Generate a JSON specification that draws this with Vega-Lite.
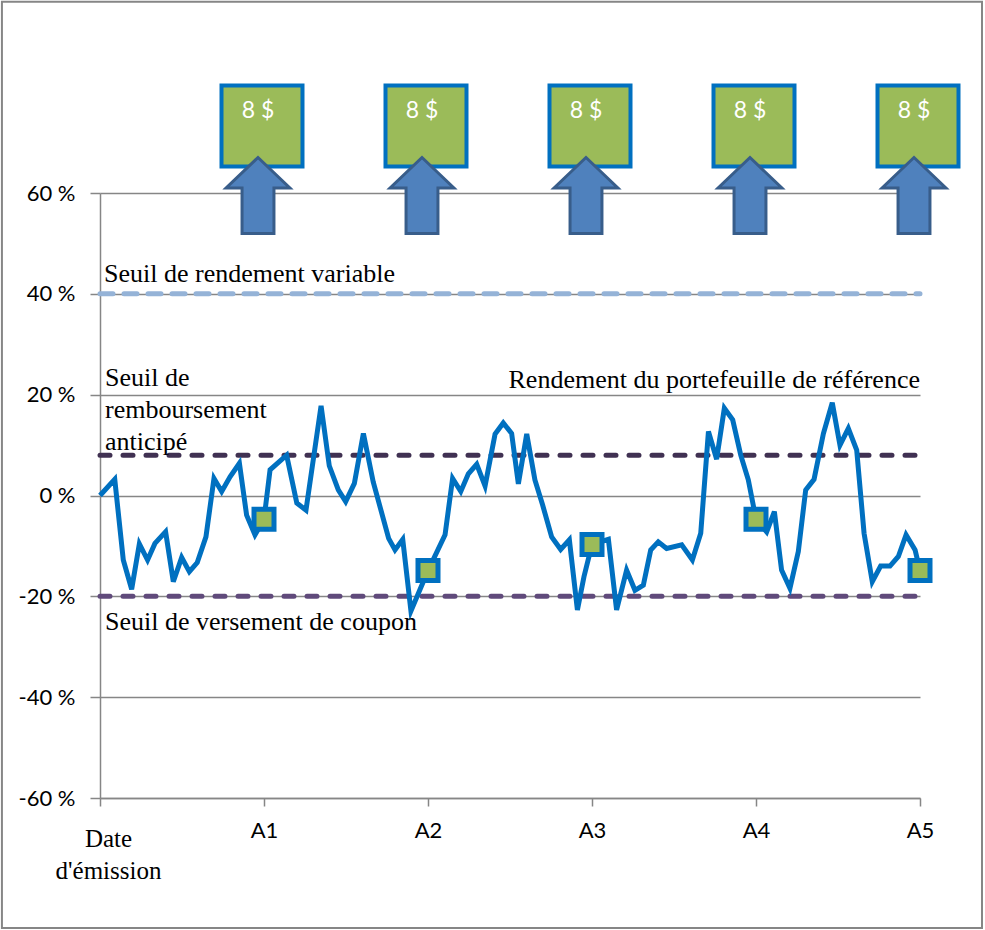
{
  "$schema": "https://vega.github.io/schema/vega-lite/v6.json",
  "width": 820,
  "height": 605,
  "autosize": {"type": "none"},
  "padding": {"left": 100, "top": 193, "right": 65, "bottom": 132},
  "background": "white",
  "config": {"view": {"stroke": null}},
  "datasets": {
    "rendement": [
      {"t": 0, "v": 0}, {"t": 0.09, "v": 3.2}, {"t": 0.142, "v": -12.8}, {"t": 0.193, "v": -18.6},
      {"t": 0.24, "v": -9.6}, {"t": 0.29, "v": -12.8}, {"t": 0.335, "v": -9.5}, {"t": 0.4, "v": -7.2},
      {"t": 0.447, "v": -17.1}, {"t": 0.498, "v": -12.3}, {"t": 0.545, "v": -15.1}, {"t": 0.593, "v": -13.3},
      {"t": 0.646, "v": -8.2}, {"t": 0.695, "v": 3.4}, {"t": 0.742, "v": 0.8}, {"t": 0.793, "v": 3.7},
      {"t": 0.85, "v": 6.4}, {"t": 0.894, "v": -3.9}, {"t": 0.945, "v": -7.8}, {"t": 1.0, "v": -4.7},
      {"t": 1.037, "v": 5.1}, {"t": 1.138, "v": 8.0}, {"t": 1.2, "v": -1.5}, {"t": 1.256, "v": -2.9},
      {"t": 1.348, "v": 17.8}, {"t": 1.398, "v": 5.9}, {"t": 1.453, "v": 1.1}, {"t": 1.498, "v": -1.2},
      {"t": 1.551, "v": 2.4}, {"t": 1.606, "v": 12.3}, {"t": 1.666, "v": 2.7}, {"t": 1.76, "v": -8.5},
      {"t": 1.799, "v": -10.8}, {"t": 1.846, "v": -8.7}, {"t": 1.896, "v": -22.9}, {"t": 2.0, "v": -14.9},
      {"t": 2.104, "v": -7.8}, {"t": 2.15, "v": 3.4}, {"t": 2.2, "v": 0.8}, {"t": 2.246, "v": 4.3},
      {"t": 2.297, "v": 6.2}, {"t": 2.348, "v": 1.9}, {"t": 2.409, "v": 12.2}, {"t": 2.459, "v": 14.4},
      {"t": 2.51, "v": 12.3}, {"t": 2.551, "v": 2.3}, {"t": 2.602, "v": 12.2}, {"t": 2.652, "v": 3.1},
      {"t": 2.699, "v": -1.9}, {"t": 2.754, "v": -8.2}, {"t": 2.809, "v": -10.7}, {"t": 2.862, "v": -8.8},
      {"t": 2.911, "v": -22.7}, {"t": 2.951, "v": -16.1}, {"t": 3.0, "v": -9.7}, {"t": 3.1, "v": -8.7},
      {"t": 3.15, "v": -22.7}, {"t": 3.211, "v": -14.8}, {"t": 3.262, "v": -18.8}, {"t": 3.313, "v": -17.8},
      {"t": 3.358, "v": -10.8}, {"t": 3.404, "v": -9.2}, {"t": 3.455, "v": -10.5}, {"t": 3.547, "v": -9.8},
      {"t": 3.612, "v": -12.8}, {"t": 3.663, "v": -7.5}, {"t": 3.71, "v": 12.7}, {"t": 3.76, "v": 7.2},
      {"t": 3.807, "v": 17.3}, {"t": 3.858, "v": 15.0}, {"t": 3.907, "v": 8.0}, {"t": 3.953, "v": 3.1},
      {"t": 4.0, "v": -4.7}, {"t": 4.065, "v": -7.2}, {"t": 4.112, "v": -3.2}, {"t": 4.156, "v": -14.8},
      {"t": 4.207, "v": -18.4}, {"t": 4.258, "v": -11.1}, {"t": 4.303, "v": 1.1}, {"t": 4.354, "v": 3.2},
      {"t": 4.411, "v": 12.3}, {"t": 4.465, "v": 18.4}, {"t": 4.512, "v": 10.0}, {"t": 4.563, "v": 13.3},
      {"t": 4.614, "v": 9.0}, {"t": 4.659, "v": -7.5}, {"t": 4.709, "v": -17.1}, {"t": 4.76, "v": -14.0},
      {"t": 4.817, "v": -14.0}, {"t": 4.868, "v": -12.1}, {"t": 4.915, "v": -7.8}, {"t": 4.97, "v": -10.8},
      {"t": 5.0, "v": -14.9}
    ],
    "observations": [
      {"t": 1, "v": -4.7}, {"t": 2, "v": -14.9}, {"t": 3, "v": -9.7}, {"t": 4, "v": -4.7}, {"t": 5, "v": -14.9}
    ],
    "seuils": [
      {"seuil": "Seuil de rendement variable", "niveau": 40},
      {"seuil": "Seuil de remboursement anticipé", "niveau": 8},
      {"seuil": "Seuil de versement de coupon", "niveau": -20}
    ],
    "coupons": [
      {"t": 1, "coupon": "8 $"}, {"t": 2, "coupon": "8 $"}, {"t": 3, "coupon": "8 $"},
      {"t": 4, "coupon": "8 $"}, {"t": 5, "coupon": "8 $"}
    ]
  },
  "layer": [
    {
      "data": {"name": "seuils"},
      "mark": {"type": "rule", "strokeWidth": 5, "strokeCap": "round"},
      "encoding": {
        "x": {"datum": 0, "type": "quantitative", "scale": {"domain": [0, 5]},
          "axis": {
            "values": [0, 1, 2, 3, 4, 5],
            "title": null,
            "grid": false,
            "labelExpr": "datum.value == 0 ? ['Date', \"d'émission\"] : 'A' + datum.value",
            "labelFont": {"condition": {"test": "datum.value == 0", "value": "Times New Roman, Liberation Serif, serif"}, "value": "Lato"},
            "labelFontSize": {"condition": {"test": "datum.value == 0", "value": 25}, "value": 22},
            "labelOffset": {"condition": {"test": "datum.value == 0", "value": 8}, "value": 0},
            "labelPadding": {"condition": {"test": "datum.value == 0", "value": 20}, "value": 14},
            "labelLineHeight": 32,
            "labelColor": "#000000",
            "labelFlush": false,
            "labelOverlap": false,
            "labelBound": false,
            "domainColor": "#868686",
            "domainWidth": 1.5,
            "tickColor": "#868686",
            "tickWidth": 1.5,
            "tickSize": 8
          }
        },
        "x2": {"datum": 5},
        "y": {"field": "niveau", "type": "quantitative", "scale": {"domain": [-60, 60]},
          "axis": {
            "values": [-60, -40, -20, 0, 20, 40, 60],
            "title": null,
            "labelExpr": "datum.value + ' %'",
            "grid": true,
            "gridColor": "#868686",
            "gridWidth": 1.5,
            "domainColor": "#868686",
            "domainWidth": 1.5,
            "tickColor": "#868686",
            "tickWidth": 1.5,
            "tickSize": 10,
            "labelFont": "Lato",
            "labelFontSize": 22,
            "labelColor": "#000000",
            "labelPadding": 15,
            "labelOverlap": false,
            "labelBound": false
          }
        },
        "color": {
          "field": "seuil", "type": "nominal", "legend": null,
          "scale": {
            "domain": ["Seuil de rendement variable", "Seuil de remboursement anticipé", "Seuil de versement de coupon"],
            "range": ["#95B3D7", "#403152", "#604A7B"]
          }
        },
        "strokeDash": {
          "field": "seuil", "type": "nominal", "legend": null,
          "scale": {
            "domain": ["Seuil de rendement variable", "Seuil de remboursement anticipé", "Seuil de versement de coupon"],
            "range": [[13, 11], [10, 13], [10, 13]]
          }
        }
      }
    },
    {
      "data": {"values": [{}]},
      "mark": {"type": "rect", "fill": "transparent", "stroke": "#868686", "strokeWidth": 2, "clip": false},
      "encoding": {
        "x": {"datum": -0.598, "type": "quantitative", "title": null},
        "x2": {"datum": 5.378},
        "y": {"datum": 97.95, "type": "quantitative", "title": null},
        "y2": {"datum": -85.8}
      }
    },
    {
      "data": {"name": "rendement"},
      "mark": {"type": "line", "color": "#0070C0", "strokeWidth": 5, "strokeJoin": "miter", "clip": false},
      "encoding": {
        "x": {"field": "t", "type": "quantitative", "title": null},
        "y": {"field": "v", "type": "quantitative", "title": null}
      }
    },
    {
      "data": {"values": [{"label": "Seuil de rendement variable", "t": 0, "v": 40}]},
      "mark": {"type": "text", "font": "Times New Roman, Liberation Serif, serif", "fontSize": 26, "align": "left", "baseline": "alphabetic", "dx": 4, "dy": -12, "color": "#000000"},
      "encoding": {
        "x": {"field": "t", "type": "quantitative", "title": null},
        "y": {"field": "v", "type": "quantitative", "title": null},
        "text": {"field": "label"}
      }
    },
    {
      "data": {"values": [{"t": 0, "v": 8}]},
      "mark": {"type": "text", "font": "Times New Roman, Liberation Serif, serif", "fontSize": 26, "align": "left", "baseline": "alphabetic", "dx": 5, "dy": -69, "lineHeight": 32, "color": "#000000", "text": ["Seuil de", "remboursement", "anticipé"]},
      "encoding": {
        "x": {"field": "t", "type": "quantitative", "title": null},
        "y": {"field": "v", "type": "quantitative", "title": null}
      }
    },
    {
      "data": {"values": [{"label": "Rendement du portefeuille de référence", "t": 5, "v": 20}]},
      "mark": {"type": "text", "font": "Times New Roman, Liberation Serif, serif", "fontSize": 26, "align": "right", "baseline": "alphabetic", "dx": 0, "dy": -7, "color": "#000000"},
      "encoding": {
        "x": {"field": "t", "type": "quantitative", "title": null},
        "y": {"field": "v", "type": "quantitative", "title": null},
        "text": {"field": "label"}
      }
    },
    {
      "data": {"values": [{"label": "Seuil de versement de coupon", "t": 0, "v": -20}]},
      "mark": {"type": "text", "font": "Times New Roman, Liberation Serif, serif", "fontSize": 26, "align": "left", "baseline": "alphabetic", "dx": 5, "dy": 34, "color": "#000000"},
      "encoding": {
        "x": {"field": "t", "type": "quantitative", "title": null},
        "y": {"field": "v", "type": "quantitative", "title": null},
        "text": {"field": "label"}
      }
    },
    {
      "data": {"name": "observations"},
      "mark": {"type": "point", "shape": "square", "size": 400, "filled": true, "fill": "#9BBB59", "stroke": "#0070C0", "strokeWidth": 5, "opacity": 1, "clip": false},
      "encoding": {
        "x": {"field": "t", "type": "quantitative", "title": null},
        "y": {"field": "v", "type": "quantitative", "title": null}
      }
    },
    {
      "data": {"name": "coupons"},
      "mark": {"type": "point", "shape": "square", "size": 6561, "filled": true, "fill": "#9BBB59", "stroke": "#0070C0", "strokeWidth": 4, "opacity": 1, "xOffset": -2, "clip": false},
      "encoding": {
        "x": {"field": "t", "type": "quantitative", "title": null},
        "y": {"datum": 73.3, "type": "quantitative", "title": null}
      }
    },
    {
      "data": {"name": "coupons"},
      "mark": {"type": "text", "font": "Lato", "fontSize": 23, "color": "#FFFFFF", "align": "center", "baseline": "middle", "dx": -6, "clip": false},
      "encoding": {
        "x": {"field": "t", "type": "quantitative", "title": null},
        "y": {"datum": 76.3, "type": "quantitative", "title": null},
        "text": {"field": "coupon"}
      }
    },
    {
      "data": {"name": "coupons"},
      "mark": {"type": "point", "shape": "M0,-1L0.84,-0.2L0.42,-0.2L0.42,1L-0.42,1L-0.42,-0.2L-0.84,-0.2Z", "size": 5776, "filled": true, "fill": "#4F81BD", "stroke": "#385D8A", "strokeWidth": 3, "opacity": 1, "xOffset": -6, "clip": false},
      "encoding": {
        "x": {"field": "t", "type": "quantitative", "title": null},
        "y": {"datum": 59.5, "type": "quantitative", "title": null}
      }
    }
  ]
}
